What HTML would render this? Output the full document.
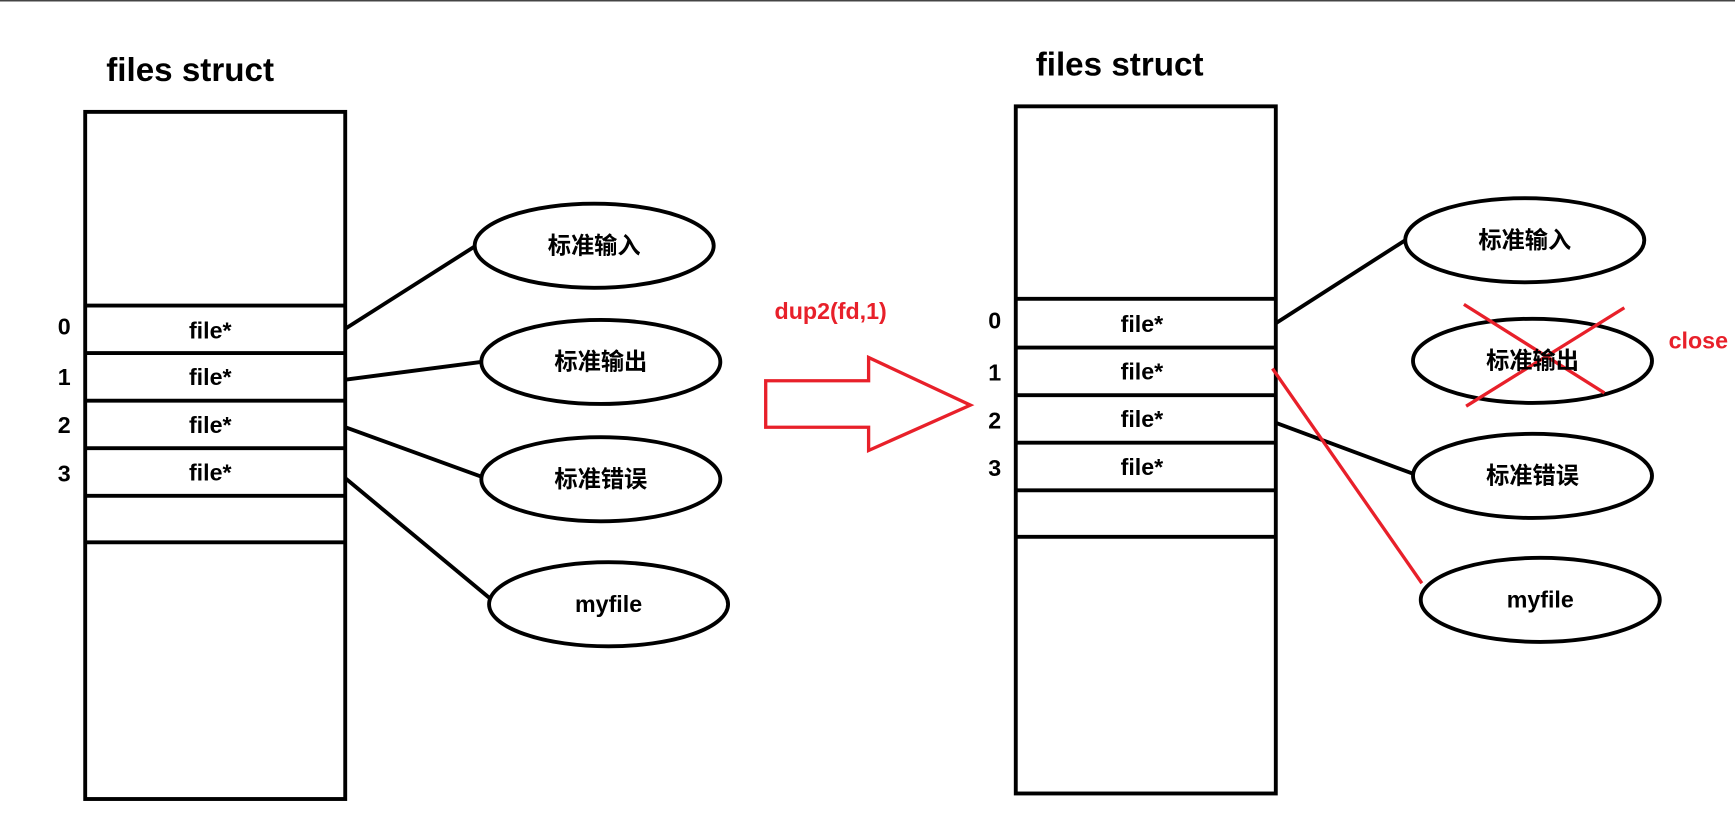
<!DOCTYPE html>
<html><head><meta charset="utf-8"><style>html,body{margin:0;padding:0;background:#fff}svg{display:block}</style></head>
<body>
<svg width="1735" height="829" viewBox="0 0 1568 749" xmlns="http://www.w3.org/2000/svg" font-family="'Liberation Sans','Noto Sans CJK SC',sans-serif" font-weight="bold">
<rect width="1568" height="749" fill="#fff"/>
<line x1="0" y1="0.5" x2="1568" y2="0.5" stroke="#444" stroke-width="1.5"/>
<g stroke="#000" stroke-width="3.5" fill="none">
<rect x="77" y="101" width="235" height="621"/>
<line x1="77" y1="276" x2="312" y2="276"/><line x1="77" y1="319" x2="312" y2="319"/>
<line x1="77" y1="362" x2="312" y2="362"/><line x1="77" y1="405" x2="312" y2="405"/>
<line x1="77" y1="448" x2="312" y2="448"/><line x1="77" y1="490" x2="312" y2="490"/>
<ellipse cx="537" cy="222" rx="108" ry="38"/><ellipse cx="543" cy="327" rx="108" ry="38"/>
<ellipse cx="543" cy="433" rx="108" ry="38"/><ellipse cx="550" cy="546" rx="108" ry="38"/>
<line x1="312" y1="297" x2="430" y2="222"/><line x1="312" y1="343" x2="435" y2="327"/>
<line x1="312" y1="386" x2="436" y2="431"/><line x1="312" y1="432" x2="442" y2="540"/>
<rect x="918" y="96" width="235" height="621"/>
<line x1="918" y1="270" x2="1153" y2="270"/><line x1="918" y1="314" x2="1153" y2="314"/>
<line x1="918" y1="357" x2="1153" y2="357"/><line x1="918" y1="400" x2="1153" y2="400"/>
<line x1="918" y1="443" x2="1153" y2="443"/><line x1="918" y1="485" x2="1153" y2="485"/>
<ellipse cx="1378" cy="217" rx="108" ry="38"/><ellipse cx="1385" cy="326" rx="108" ry="38"/>
<ellipse cx="1385" cy="430" rx="108" ry="38"/><ellipse cx="1392" cy="542" rx="108" ry="38"/>
<line x1="1153" y1="292" x2="1270" y2="217"/><line x1="1153" y1="382" x2="1277" y2="428"/>
</g>
<g stroke="#e8202a" stroke-width="3" fill="none">
<polygon points="692,344 785,344 785,323 877,366 785,407 785,386 692,386"/>
<line x1="1150" y1="333" x2="1285" y2="527"/>
<line x1="1323" y1="275" x2="1450" y2="355"/><line x1="1325" y1="367" x2="1468" y2="278"/>
</g>
<g fill="#000" font-size="21">
<text x="96" y="73" font-size="30">files struct</text>
<text x="936" y="68" font-size="30">files struct</text>
<g text-anchor="middle">
<text x="58" y="302">0</text><text x="58" y="348">1</text><text x="58" y="391">2</text><text x="58" y="435">3</text>
<text x="190" y="306">file*</text><text x="190" y="348">file*</text><text x="190" y="391">file*</text><text x="190" y="434">file*</text>
<text x="899" y="297">0</text><text x="899" y="344">1</text><text x="899" y="387">2</text><text x="899" y="430">3</text>
<text x="1032" y="300">file*</text><text x="1032" y="343">file*</text><text x="1032" y="386">file*</text><text x="1032" y="429">file*</text>
<text x="537" y="229">标准输入</text><text x="543" y="334">标准输出</text><text x="543" y="440">标准错误</text><text x="550" y="553">myfile</text>
<text x="1378" y="224">标准输入</text><text x="1385" y="333">标准输出</text><text x="1385" y="437">标准错误</text><text x="1392" y="549">myfile</text>
</g>
</g>
<g fill="#e8202a" font-size="21">
<text x="700" y="288">dup2(fd,1)</text>
<text x="1508" y="315">close</text>
</g>
</svg>
</body></html>
